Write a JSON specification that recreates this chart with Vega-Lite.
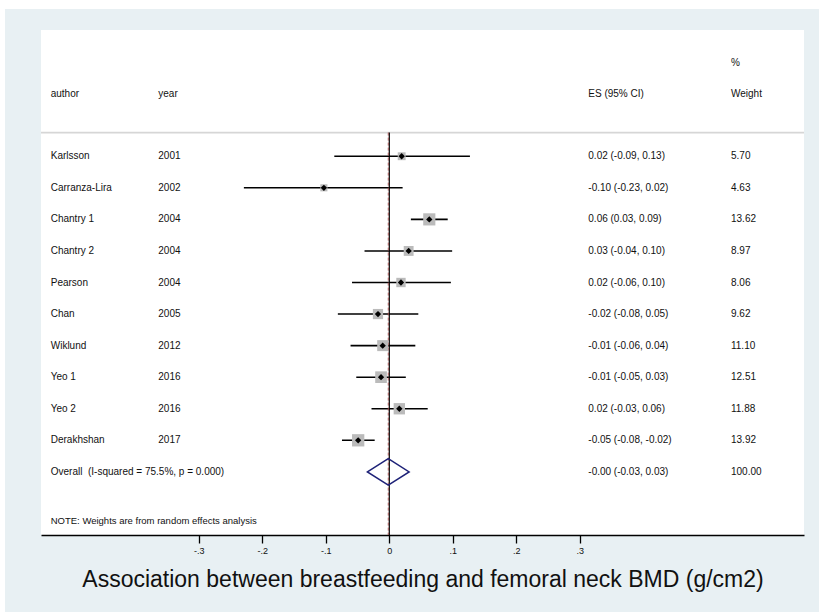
{
  "$schema": "https://vega.github.io/schema/vega-lite/v6.json",
  "width": 763,
  "height": 505,
  "autosize": {"type": "none"},
  "padding": {"left": 41, "top": 30, "right": 15, "bottom": 77},
  "background": "#e8f0f3",
  "config": {
    "view": {"fill": "white", "stroke": null},
    "font": "Liberation Sans",
    "text": {"font": "Liberation Sans", "fontSize": 10, "color": "#111111", "align": "left", "baseline": "middle"},
    "axisX": {
      "labelExpr": "datum.value == 0 ? '0' : (datum.value < 0 ? '-.' : '.') + round(abs(datum.value) * 10)",
      "domainColor": "#000000", "domainWidth": 1.3,
      "tickColor": "#000000", "tickWidth": 1.3, "tickSize": 8,
      "labelFont": "Liberation Sans", "labelFontSize": 9, "labelColor": "#111111", "labelPadding": 3,
      "labelFlush": false, "labelOverlap": false, "grid": false,
      "titleFont": "Liberation Sans", "titleFontSize": 23, "titleFontWeight": "normal", "titleColor": "#111111",
      "titleBaseline": "alphabetic", "titleY": 51
    }
  },
  "data": {
    "values": [
      {"row": 1, "author": "Karlsson", "year": "2001", "es": 0.0195, "lo": -0.0866, "hi": 0.127, "weight": 5.70, "label": "0.02 (-0.09, 0.13)", "type": "study"},
      {"row": 2, "author": "Carranza-Lira", "year": "2002", "es": -0.103, "lo": -0.229, "hi": 0.021, "weight": 4.63, "label": "-0.10 (-0.23, 0.02)", "type": "study"},
      {"row": 3, "author": "Chantry 1", "year": "2004", "es": 0.063, "lo": 0.034, "hi": 0.092, "weight": 13.62, "label": "0.06 (0.03, 0.09)", "type": "study"},
      {"row": 4, "author": "Chantry 2", "year": "2004", "es": 0.0305, "lo": -0.039, "hi": 0.099, "weight": 8.97, "label": "0.03 (-0.04, 0.10)", "type": "study"},
      {"row": 5, "author": "Pearson", "year": "2004", "es": 0.0184, "lo": -0.0587, "hi": 0.097, "weight": 8.06, "label": "0.02 (-0.06, 0.10)", "type": "study"},
      {"row": 6, "author": "Chan", "year": "2005", "es": -0.0178, "lo": -0.081, "hi": 0.0457, "weight": 9.62, "label": "-0.02 (-0.08, 0.05)", "type": "study"},
      {"row": 7, "author": "Wiklund", "year": "2012", "es": -0.0104, "lo": -0.061, "hi": 0.041, "weight": 11.10, "label": "-0.01 (-0.06, 0.04)", "type": "study"},
      {"row": 8, "author": "Yeo 1", "year": "2016", "es": -0.013, "lo": -0.052, "hi": 0.026, "weight": 12.51, "label": "-0.01 (-0.05, 0.03)", "type": "study"},
      {"row": 9, "author": "Yeo 2", "year": "2016", "es": 0.0158, "lo": -0.028, "hi": 0.0605, "weight": 11.88, "label": "0.02 (-0.03, 0.06)", "type": "study"},
      {"row": 10, "author": "Derakhshan", "year": "2017", "es": -0.049, "lo": -0.0745, "hi": -0.023, "weight": 13.92, "label": "-0.05 (-0.08, -0.02)", "type": "study"},
      {"row": 11, "author": "Overall\u00a0 (I-squared = 75.5%, p = 0.000)", "year": "", "es": -0.0016, "lo": -0.033, "hi": 0.0326, "weight": 100.00, "label": "-0.00 (-0.03, 0.03)", "type": "overall"}
    ]
  },
  "layer": [
    {
      "transform": [{"filter": "datum.type == 'study'"}],
      "mark": {"type": "rule", "color": "#000000", "strokeWidth": 1.6},
      "encoding": {
        "x": {
          "field": "lo", "type": "quantitative",
          "scale": {"domain": [-0.5485, 0.6531], "nice": false, "zero": false},
          "title": "Association between breastfeeding and femoral neck BMD (g/cm2)",
          "axis": {"values": [-0.3, -0.2, -0.1, 0, 0.1, 0.2, 0.3]}
        },
        "x2": {"field": "hi"},
        "y": {"field": "row", "type": "quantitative", "scale": {"domain": [-3, 13], "reverse": true, "nice": false, "zero": false}, "axis": null}
      }
    },
    {
      "data": {"values": [{}]},
      "mark": {"type": "rect", "color": "white"},
      "encoding": {
        "x": {"datum": -0.7, "scale": {"domain": [-0.5485, 0.6531], "nice": false, "zero": false}},
        "x2": {"datum": -0.6052},
        "y": {"datum": -4, "scale": {"domain": [-3, 13], "reverse": true, "nice": false, "zero": false}, "axis": null},
        "y2": {"datum": 16}
      }
    },
    {
      "data": {"values": [{}]},
      "mark": {"type": "rect", "color": "white"},
      "encoding": {
        "x": {"datum": -0.7, "scale": {"domain": [-0.5485, 0.6531], "nice": false, "zero": false}},
        "x2": {"datum": 0.75},
        "y": {"datum": -4, "scale": {"domain": [-3, 13], "reverse": true, "nice": false, "zero": false}, "axis": null},
        "y2": {"datum": -3.665}
      }
    },
    {
      "data": {"values": [{}]},
      "mark": {"type": "rule", "color": "#d6d6d6", "strokeWidth": 1.6},
      "encoding": {
        "y": {"datum": 0.25, "scale": {"domain": [-3, 13], "reverse": true, "nice": false, "zero": false}, "axis": null}
      }
    },
    {
      "data": {"values": [{}]},
      "mark": {"type": "rule", "color": "#000000", "strokeWidth": 1.2},
      "encoding": {
        "x": {"datum": 0, "scale": {"domain": [-0.5485, 0.6531], "nice": false, "zero": false}},
        "y": {"datum": 0.25, "scale": {"domain": [-3, 13], "reverse": true, "nice": false, "zero": false}, "axis": null},
        "y2": {"datum": 13}
      }
    },
    {
      "transform": [{"filter": "datum.type == 'overall'"}],
      "mark": {"type": "rule", "color": "#a04848", "strokeWidth": 0.9, "strokeDash": [3, 2]},
      "encoding": {
        "x": {"field": "es", "type": "quantitative", "scale": {"domain": [-0.5485, 0.6531], "nice": false, "zero": false}},
        "y": {"datum": 0.25, "scale": {"domain": [-3, 13], "reverse": true, "nice": false, "zero": false}, "axis": null},
        "y2": {"datum": 13}
      }
    },
    {
      "transform": [{"filter": "datum.type == 'study'"}],
      "mark": {"type": "point", "shape": "square", "filled": true, "color": "#bbbbbb", "opacity": 1},
      "encoding": {
        "x": {"field": "es", "type": "quantitative", "scale": {"domain": [-0.5485, 0.6531], "nice": false, "zero": false}},
        "y": {"field": "row", "type": "quantitative", "scale": {"domain": [-3, 13], "reverse": true, "nice": false, "zero": false}, "axis": null},
        "size": {"field": "weight", "type": "quantitative", "scale": {"domain": [0, 14], "range": [0, 152], "zero": true}, "legend": null}
      }
    },
    {
      "transform": [{"filter": "datum.type == 'study'"}],
      "mark": {"type": "point", "shape": "diamond", "filled": true, "color": "#000000", "size": 40, "opacity": 1},
      "encoding": {
        "x": {"field": "es", "type": "quantitative", "scale": {"domain": [-0.5485, 0.6531], "nice": false, "zero": false}},
        "y": {"field": "row", "type": "quantitative", "scale": {"domain": [-3, 13], "reverse": true, "nice": false, "zero": false}, "axis": null}
      }
    },
    {
      "transform": [{"filter": "datum.type == 'overall'"}],
      "mark": {"type": "point", "shape": "M-1,0L0,-0.64L1,0L0,0.64Z", "filled": false, "stroke": "#1e2278", "strokeWidth": 1.5, "size": 1739, "opacity": 1},
      "encoding": {
        "x": {"field": "es", "type": "quantitative", "scale": {"domain": [-0.5485, 0.6531], "nice": false, "zero": false}},
        "y": {"field": "row", "type": "quantitative", "scale": {"domain": [-3, 13], "reverse": true, "nice": false, "zero": false}, "axis": null}
      }
    },
    {
      "mark": {"type": "text"},
      "encoding": {
        "x": {"datum": -0.5332, "scale": {"domain": [-0.5485, 0.6531], "nice": false, "zero": false}},
        "y": {"field": "row", "type": "quantitative", "scale": {"domain": [-3, 13], "reverse": true, "nice": false, "zero": false}, "axis": null},
        "text": {"field": "author"}
      }
    },
    {
      "mark": {"type": "text"},
      "encoding": {
        "x": {"datum": -0.3638, "scale": {"domain": [-0.5485, 0.6531], "nice": false, "zero": false}},
        "y": {"field": "row", "type": "quantitative", "scale": {"domain": [-3, 13], "reverse": true, "nice": false, "zero": false}, "axis": null},
        "text": {"field": "year"}
      }
    },
    {
      "mark": {"type": "text"},
      "encoding": {
        "x": {"datum": 0.3134, "scale": {"domain": [-0.5485, 0.6531], "nice": false, "zero": false}},
        "y": {"field": "row", "type": "quantitative", "scale": {"domain": [-3, 13], "reverse": true, "nice": false, "zero": false}, "axis": null},
        "text": {"field": "label"}
      }
    },
    {
      "mark": {"type": "text"},
      "encoding": {
        "x": {"datum": 0.5381, "scale": {"domain": [-0.5485, 0.6531], "nice": false, "zero": false}},
        "y": {"field": "row", "type": "quantitative", "scale": {"domain": [-3, 13], "reverse": true, "nice": false, "zero": false}, "axis": null},
        "text": {"field": "weight", "format": ".2f"}
      }
    },
    {
      "data": {"values": [{}]},
      "mark": {"type": "text", "text": "author"},
      "encoding": {
        "x": {"datum": -0.5332, "scale": {"domain": [-0.5485, 0.6531], "nice": false, "zero": false}},
        "y": {"datum": -0.97, "scale": {"domain": [-3, 13], "reverse": true, "nice": false, "zero": false}, "axis": null}
      }
    },
    {
      "data": {"values": [{}]},
      "mark": {"type": "text", "text": "year"},
      "encoding": {
        "x": {"datum": -0.3638, "scale": {"domain": [-0.5485, 0.6531], "nice": false, "zero": false}},
        "y": {"datum": -0.97, "scale": {"domain": [-3, 13], "reverse": true, "nice": false, "zero": false}, "axis": null}
      }
    },
    {
      "data": {"values": [{}]},
      "mark": {"type": "text", "text": "ES (95% CI)"},
      "encoding": {
        "x": {"datum": 0.3134, "scale": {"domain": [-0.5485, 0.6531], "nice": false, "zero": false}},
        "y": {"datum": -0.97, "scale": {"domain": [-3, 13], "reverse": true, "nice": false, "zero": false}, "axis": null}
      }
    },
    {
      "data": {"values": [{}]},
      "mark": {"type": "text", "text": "%"},
      "encoding": {
        "x": {"datum": 0.5381, "scale": {"domain": [-0.5485, 0.6531], "nice": false, "zero": false}},
        "y": {"datum": -1.96, "scale": {"domain": [-3, 13], "reverse": true, "nice": false, "zero": false}, "axis": null}
      }
    },
    {
      "data": {"values": [{}]},
      "mark": {"type": "text", "text": "Weight"},
      "encoding": {
        "x": {"datum": 0.5381, "scale": {"domain": [-0.5485, 0.6531], "nice": false, "zero": false}},
        "y": {"datum": -0.97, "scale": {"domain": [-3, 13], "reverse": true, "nice": false, "zero": false}, "axis": null}
      }
    },
    {
      "data": {"values": [{}]},
      "mark": {"type": "text", "text": "NOTE: Weights are from random effects analysis", "fontSize": 9.5},
      "encoding": {
        "x": {"datum": -0.5332, "scale": {"domain": [-0.5485, 0.6531], "nice": false, "zero": false}},
        "y": {"datum": 12.55, "scale": {"domain": [-3, 13], "reverse": true, "nice": false, "zero": false}, "axis": null}
      }
    }
  ]
}
